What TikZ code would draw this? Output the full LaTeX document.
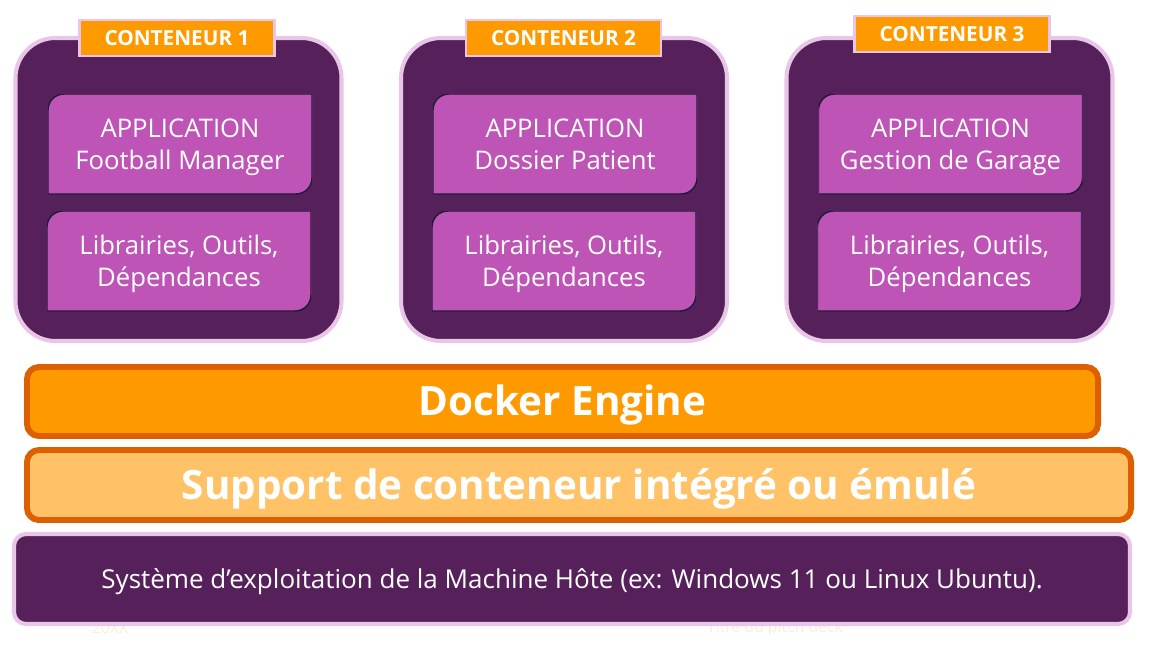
\documentclass[tikz,border=0pt]{standalone}
\usepackage{fontspec}
\setmainfont{Open Sans}
\definecolor{contpurple}{HTML}{56215A}
\definecolor{pinkedge}{HTML}{E9C6E8}
\definecolor{appmagenta}{HTML}{BE55B6}
\definecolor{appedge}{HTML}{1E1B3A}
\definecolor{dockerorange}{HTML}{FF9900}
\definecolor{darkorange}{HTML}{DD5F00}
\definecolor{supportorange}{HTML}{FFC266}
\definecolor{faintbeige}{HTML}{F8EEDC}
\begin{document}
\begin{tikzpicture}[container/.style={rectangle,rounded corners=0.8cm,fill=contpurple,draw=pinkedge,line width=2.3pt,minimum width=6.52cm,minimum height=6.06cm},
  contlabel/.style={rectangle,fill=dockerorange,draw=pinkedge,line width=1.2pt,minimum width=3.9cm,minimum height=0.72cm,text height=8.4pt,text depth=0pt,text=white,font=\fontsize{11.8}{13}\selectfont\bfseries},
  appbox/.style={rectangle,minimum width=5.28cm,minimum height=2cm,align=center,text height=1.2cm,text depth=0.2cm,text=white,font=\fontsize{14.6}{18.2}\selectfont,
    path picture={\draw[fill=appmagenta,draw=appedge,line width=0.8pt]
      (path picture bounding box.south west) -- ([yshift=-0.32cm]path picture bounding box.north west)
      arc[start angle=180,end angle=90,radius=0.32cm] -- (path picture bounding box.north east)
      -- ([yshift=0.32cm]path picture bounding box.south east)
      arc[start angle=0,end angle=-90,radius=0.32cm] -- cycle;}},
  layer bar/.style={rectangle,rounded corners=0.24cm,line width=3.4pt,draw=darkorange,minimum height=1.38cm,text height=16.4pt,text depth=0pt,text=white,font=\fontsize{23}{27}\selectfont\bfseries},
  faint/.style={text=faintbeige,font=\fontsize{9}{11}\selectfont}]
\useasboundingbox (0,0) rectangle (22.98,-13.1);
% containers
\node [container](c1) at (3.57,-3.79) {};
\node [container](c2) at (11.28,-3.79) {};
\node [container](c3) at (18.99,-3.79) {};
\node [contlabel](l1) at (3.54,-0.76) {CONTENEUR 1};
\node [contlabel](l2) at (11.27,-0.76) {CONTENEUR 2};
\node [contlabel](l3) at (19.04,-0.68) {CONTENEUR 3};
\node [appbox](a1) at (3.6,-2.88) {APPLICATION\\Football Manager};
\node [appbox](d1) at (3.58,-5.22) {Librairies, Outils,\\Dépendances};
\node [appbox](a2) at (11.3,-2.88) {APPLICATION\\Dossier Patient};
\node [appbox](d2) at (11.28,-5.22) {Librairies, Outils,\\Dépendances};
\node [appbox](a3) at (19.01,-2.88) {APPLICATION\\Gestion de Garage};
\node [appbox](d3) at (18.99,-5.22) {Librairies, Outils,\\Dépendances};
% layers
\node [layer bar,fill=dockerorange,minimum width=21.42cm](engine) at (11.25,-8.03) {Docker Engine};
\node [layer bar,fill=supportorange,minimum width=22.08cm,minimum height=1.40cm](support) at (11.58,-9.7) {Support de conteneur intégré ou émulé};
\node [faint](year) at (2.2,-12.56) {20XX};
\node [faint](deck) at (15.5,-12.56) {Titre du pitch deck};
\node [rectangle,rounded corners=0.24cm,fill=contpurple,draw=pinkedge,line width=2.3pt,minimum width=22.32cm,minimum height=1.8cm,text height=10.6pt,text depth=0pt,text=white,font=\fontsize{14.8}{17}\selectfont](host) at (11.44,-11.58) {Système d’exploitation de la Machine Hôte (ex: Windows 11 ou Linux Ubuntu).};
\end{tikzpicture}
\end{document}
